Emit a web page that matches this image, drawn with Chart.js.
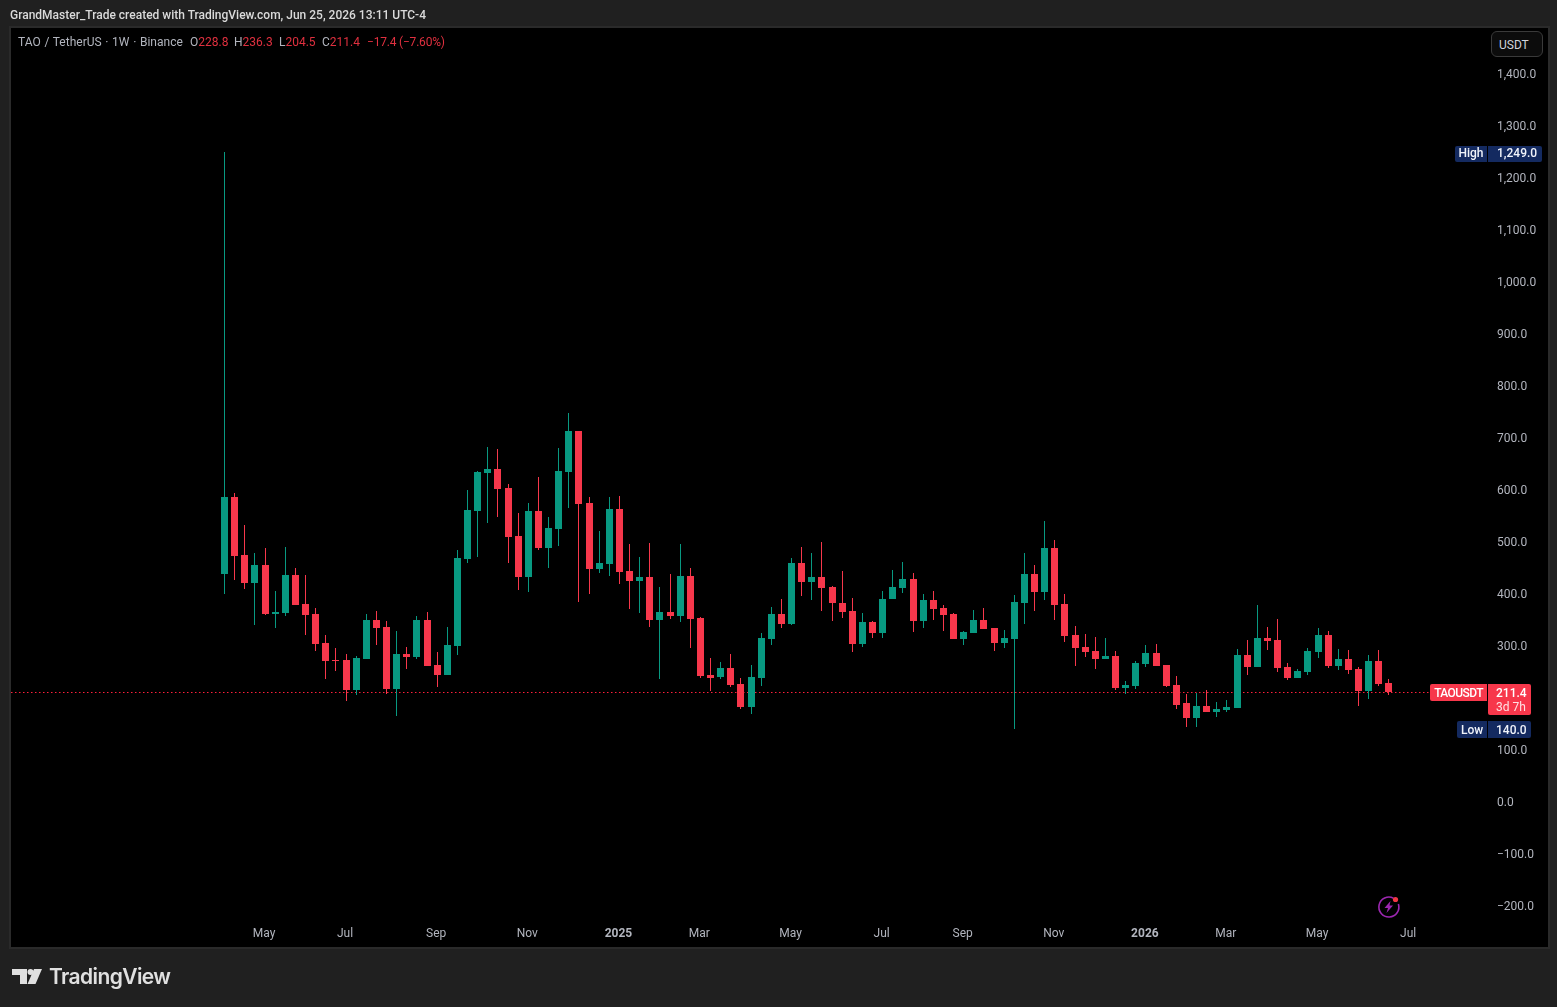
<!DOCTYPE html>
<html>
<head>
<meta charset="utf-8">
<style>
  html, body { margin: 0; padding: 0; width: 1557px; height: 1007px; overflow: hidden; background: #202020; }
  body { font-family: Roboto, sans-serif; position: relative; }
  #pane { position: absolute; left: 9px; top: 26px; width: 1537px; height: 919px; background: #000; border: 2px solid #2a2a2a; }
  canvas { position: absolute; left: 0; top: 0; }
  .txt { position: absolute; white-space: nowrap; }
  #title { left: 10px; top: 8px; font-size: 12px; font-weight: 500; color: #dadada; line-height: 14px; }
  .leg { top: 35px; font-size: 12px; line-height: 14px; color: #b2b5be; }
  .leg b { font-weight: 400; color: #e0303f; }
  #unit { left: 1491px; top: 31px; width: 43px; height: 24px; line-height: 26px; padding-left: 7px; font-size: 12px; color: #d1d4dc; background: #0c0c0c; border: 1px solid #3a3a3a; border-radius: 6px; }
  #brand { left: 49px; top: 963px; font-family: Inter, sans-serif; font-size: 21px; font-weight: 600; letter-spacing: -0.6px; line-height: 28px; color: #e0e0e0; }
  svg { position: absolute; }
</style>
</head>
<body>
<div id="pane"></div>
<canvas id="chart" width="1557" height="1007"></canvas>
<div class="txt" id="title">GrandMaster_Trade created with TradingView.com, Jun 25, 2026 13:11 UTC-4</div>
<div class="txt leg" style="left:18px;word-spacing:0.7px">TAO / TetherUS · 1W · Binance</div>
<div class="txt leg" style="left:190px">O<b>228.8</b></div>
<div class="txt leg" style="left:234px">H<b>236.3</b></div>
<div class="txt leg" style="left:279px">L<b>204.5</b></div>
<div class="txt leg" style="left:322px">C<b>211.4</b></div>
<div class="txt leg" style="left:367px;letter-spacing:-0.2px"><b>−17.4 (−7.60%)</b></div>
<div class="txt" id="unit">USDT</div>
<svg style="left:12px;top:969px" width="30" height="16" viewBox="0 0 30 16">
  <path d="M0 0H15V15H8V6H0Z" fill="#e0e0e0"/>
  <circle cx="18.5" cy="3" r="3" fill="#e0e0e0"/>
  <path d="M22 0H30L23.5 15H15.5Z" fill="#e0e0e0"/>
</svg>
<div class="txt" id="brand">TradingView</div>
<svg style="left:1376px;top:894px" width="26" height="26" viewBox="0 0 26 26">
  <path d="M17.5 4.2A10 10 0 1 0 22.4 10" fill="none" stroke="#9c27b0" stroke-width="1.6"/>
  <path d="M14.5 7L8.5 14H12L10.5 19L17 11.5H13.5Z" fill="#9c27b0"/>
  <circle cx="19.5" cy="5.5" r="2.6" fill="#f23645"/>
</svg>

<script src="https://cdn.jsdelivr.net/npm/chart.js@4"></script>
<script>
const opens = [
  437.5, 585.6, 474, 420.2, 454.8, 360.6, 362.5, 435.6, 379.8, 360.6,
  304.8, 272.1, 272.1, 214.4, 274, 349, 335.6, 216.3, 283.7, 277.9,
  349, 262.5, 243.3, 299, 466.3, 558.6, 631.7, 639.4, 602.9, 510.6,
  431.7, 558.6, 487.5, 524, 633.6, 712.5, 574, 447.1, 456.7, 562.5,
  443.3, 424, 431.7, 349, 364.4, 356.7, 433.6, 352.9, 243.3, 239.4,
  256.7, 226, 181.7, 237.5, 312.5, 360.6, 341.3, 458.6, 422.1, 431.7,
  412.5, 381.7, 366.3, 302.9, 345.2, 324, 389.4, 410.6, 427.9, 347,
  387.5, 372, 360.6, 312.5, 324, 349, 333.7, 304.8, 312.5, 381.7,
  437.5, 402.9, 487.5, 379.8, 320.2, 297.1, 289.4, 274, 279.8, 218.3,
  222.1, 264.4, 285.6, 262.5, 224, 189.4, 160.6, 183.6, 172, 175.9,
  179.8, 281.7, 258.6, 314.4, 310.5, 258.6, 237.5, 249, 287.5, 320.2,
  260.5, 274, 254.8, 212.5, 270.2, 228.8
];
const highs = [
  1249, 593.3, 531.7, 477.9, 487.5, 404.8, 489.4, 449, 435.6, 372,
  320.2, 295.2, 283.7, 279.8, 360.6, 366.3, 347, 327.9, 297.1, 356.7,
  364.4, 287.5, 335.6, 483.6, 599, 635.6, 681.7, 677.9, 610.6, 554.8,
  574, 624, 547.1, 679.8, 747.1, 712.5, 585.6, 520.2, 585.6, 587.5,
  495.2, 470.2, 497.1, 412.5, 437.5, 495.2, 449, 354.8, 275.9, 268.3,
  283.7, 237.5, 262.5, 324, 374, 389.4, 468.3, 489.4, 477.9, 499,
  414.4, 443.3, 391.3, 362.5, 347, 404.8, 445.2, 460.6, 439.4, 399,
  404.8, 377.9, 362.5, 327.9, 368.3, 372, 333.7, 329.8, 397.1, 477.9,
  454.8, 539.4, 502.9, 399, 337.5, 322.1, 316.3, 314.4, 289.4, 231.7,
  270.2, 301, 302.9, 262.5, 241.3, 206.7, 208.6, 214.4, 191.3, 195.2,
  293.2, 310.5, 377.9, 335.5, 350.9, 266.3, 254.8, 295.2, 333.6, 327.9,
  293.2, 291.3, 258.6, 281.7, 291.3, 236.3
];
const lows = [
  399, 426, 408.6, 339.4, 358.6, 333.7, 356.7, 377.9, 320.2, 289.4,
  235.6, 250.9, 193.3, 204.8, 274, 300.9, 206.7, 164.4, 254.8, 274,
  260.6, 220.2, 243.3, 281.7, 458.6, 470.2, 535.6, 547.1, 458.6, 406.7,
  402.9, 483.6, 449, 491.3, 564.4, 383.7, 399, 439.4, 433.6, 418.3,
  370.2, 362.5, 335.6, 235.6, 350.9, 345.2, 295.2, 237.5, 212.5, 235.6,
  220.2, 177.9, 168.3, 222.1, 301, 333.7, 339.4, 395.2, 387.5, 366.3,
  347, 352.9, 287.5, 297.1, 314.4, 314.4, 389.4, 401, 326, 333.7,
  349, 327.9, 312.5, 301, 324, 331.7, 289.4, 295.2, 140, 341.3,
  366.3, 387.5, 349, 306.7, 260.6, 277.9, 254.8, 274, 214.4, 206.7,
  216.3, 258.6, 260.6, 220.2, 177.9, 143.2, 143.2, 172, 162.4, 172,
  179.8, 243.2, 258.6, 291.3, 249, 233.6, 237.5, 243.2, 275.9, 256.7,
  252.9, 245.2, 183.6, 197.1, 222.1, 204.5
];
const closes = [
  585.6, 472.1, 420.2, 454.8, 360.6, 364.4, 435.6, 377.9, 358.6, 302.9,
  270.2, 270.2, 214.4, 276, 349, 333.7, 216.3, 283.7, 277.9, 349,
  260.6, 243.3, 301, 468.3, 560.6, 633.6, 639.4, 600.9, 508.6, 431.7,
  558.6, 487.5, 525.9, 635.6, 712.5, 572.1, 447.1, 458.6, 562.5, 441.3,
  424, 431.7, 349, 364.4, 356.7, 433.6, 350.9, 241.4, 237.5, 256.7,
  224, 181.7, 239.4, 314.4, 360.6, 341.3, 458.6, 422.1, 431.7, 410.6,
  381.7, 364.4, 302.9, 345.2, 324, 389.4, 412.5, 427.9, 347, 387.5,
  370.2, 358.6, 312.5, 326, 349, 331.7, 304.8, 314.4, 383.7, 437.5,
  402.9, 487.5, 377.9, 318.3, 295.2, 287.5, 274, 279.8, 218.3, 224,
  266.3, 285.6, 260.6, 222.1, 185.6, 160.6, 183.6, 172, 177.9, 181.7,
  281.7, 258.6, 314.4, 308.6, 256.7, 237.5, 250.9, 289.4, 320.2, 260.5,
  274, 252.9, 212.5, 270.2, 225.9, 211.4
];

// week numbers counted from the first candle
const xTickWeeks = [4, 12, 21, 30, 39, 47, 56, 65, 73, 82, 91, 99, 108, 117];
const xTickLabels = ['May', 'Jul', 'Sep', 'Nov', '2025', 'Mar', 'May', 'Jul', 'Sep', 'Nov', '2026', 'Mar', 'May', 'Jul'];
const yTicks = [1400, 1300, 1200, 1100, 1000, 900, 800, 700, 600, 500, 400, 300, 100, 0, -100, -200];

const lastClose = 211.4;
const allTimeHigh = 1249;
const allTimeLow = 140;

const UP = '#089981';
const DOWN = '#f7374b';
const NAVY = '#142a60';

const weeks = opens.map((_, i) => i);
const candleColors = weeks.map(i => closes[i] >= opens[i] ? UP : DOWN);
const wickData = weeks.map(i => ({ x: i, y: [lows[i], highs[i]] }));
const bodyData = weeks.map(i => ({ x: i, y: [Math.min(opens[i], closes[i]), Math.max(opens[i], closes[i])] }));

const X_MIN = -21.09, X_MAX = 124.69;
const Y_MIN = -224, Y_MAX = 1487.5;

// keep candles on whole pixels so wicks stay sharp like the original
const snapPlugin = {
  id: 'snap',
  afterDatasetsUpdate(chart) {
    chart.getSortedVisibleDatasetMetas().forEach(meta => {
      meta.data.forEach(el => {
        if (meta.type === 'bar') {
          el.x = Math.floor(el.x) + 0.5;
          el.y = Math.round(el.y);
          el.base = Math.round(el.base);
        } else {
          el.x = Math.round(el.x);
          el.y = Math.round(el.y) + 0.5;
        }
      });
    });
  }
};

function tag(ctx, x, y, w, h, fill, corners) {
  ctx.fillStyle = fill;
  ctx.beginPath();
  ctx.roundRect(x, y, w, h, corners);
  ctx.fill();
}

function tagText(ctx, s, x, y, color, align) {
  ctx.fillStyle = color;
  ctx.textAlign = align;
  ctx.textBaseline = 'middle';
  ctx.fillText(s, x, y);
}

const priceTagsPlugin = {
  id: 'priceTags',
  afterDraw(chart) {
    const ctx = chart.ctx;
    const sy = chart.scales.y;
    ctx.save();
    ctx.font = '500 12px Roboto, sans-serif';

    let c = Math.round(sy.getPixelForValue(allTimeHigh));
    tag(ctx, 1455, c - 6, 32, 16, NAVY, [2, 0, 0, 2]);
    tag(ctx, 1488, c - 6, 54, 16, NAVY, [0, 2, 2, 0]);
    tagText(ctx, 'High', 1471, c + 2, '#f0f3fa', 'center');
    tagText(ctx, '1,249.0', 1497, c + 2, '#f0f3fa', 'left');

    c = Math.round(sy.getPixelForValue(lastClose));
    tag(ctx, 1430, c - 8, 57, 17, DOWN, [2, 0, 0, 2]);
    tag(ctx, 1488, c - 8, 43, 31, DOWN, [0, 2, 2, 2]);
    ctx.letterSpacing = '-0.6px';
    tagText(ctx, 'TAOUSDT', 1458.5, c + 2, '#ffffff', 'center');
    ctx.letterSpacing = '0px';
    tagText(ctx, '211.4', 1496, c + 2, '#ffffff', 'left');
    ctx.font = '400 12px Roboto, sans-serif';
    tagText(ctx, '3d 7h', 1496, c + 16, '#ffe0e3', 'left');

    ctx.font = '500 12px Roboto, sans-serif';
    c = Math.round(sy.getPixelForValue(allTimeLow));
    tag(ctx, 1457, c - 8, 30, 17, NAVY, [2, 0, 0, 2]);
    tag(ctx, 1488, c - 8, 43, 17, NAVY, [0, 2, 2, 0]);
    tagText(ctx, 'Low', 1472, c + 2, '#f0f3fa', 'center');
    tagText(ctx, '140.0', 1496, c + 2, '#f0f3fa', 'left');
    ctx.restore();
  }
};

new Chart(document.getElementById('chart').getContext('2d'), {
  type: 'bar',
  plugins: [snapPlugin, priceTagsPlugin],
  data: {
    datasets: [
      {
        data: bodyData,
        backgroundColor: candleColors,
        barThickness: 7,
        grouped: false,
        inflateAmount: 0,
        order: 1
      },
      {
        data: wickData,
        backgroundColor: candleColors,
        barThickness: 1,
        grouped: false,
        inflateAmount: 0,
        order: 2
      },
      {
        type: 'line',
        data: [{ x: X_MIN, y: lastClose }, { x: X_MAX, y: lastClose }],
        borderColor: '#ff1f3a',
        borderWidth: 1,
        borderDash: [1.5, 2.5],
        pointRadius: 0,
        order: 3
      }
    ]
  },
  options: {
    responsive: false,
    animation: false,
    events: [],
    layout: { padding: { left: 11, top: 28, right: 10, bottom: 61 } },
    plugins: { legend: { display: false }, tooltip: { enabled: false } },
    scales: {
      x: {
        type: 'linear',
        offset: false,
        min: X_MIN,
        max: X_MAX,
        grid: { display: false, drawTicks: false },
        border: { display: false },
        afterFit(scale) { scale.height = 28; },
        afterBuildTicks(scale) { scale.ticks = xTickWeeks.map(v => ({ value: v })); },
        ticks: {
          autoSkip: false,
          maxRotation: 0,
          padding: 9,
          labelOffset: -1,
          color: '#b2b5be',
          font: ctx => {
            const s = xTickLabels[ctx.index];
            return { family: 'Roboto, sans-serif', size: 12, weight: s && s.length === 4 ? '700' : '400' };
          },
          callback: (v, i) => xTickLabels[i]
        }
      },
      y: {
        position: 'right',
        min: Y_MIN,
        max: Y_MAX,
        grid: { display: false, drawTicks: false },
        border: { display: false },
        afterFit(scale) { scale.width = 60; },
        afterBuildTicks(scale) { scale.ticks = yTicks.map(v => ({ value: v })); },
        ticks: {
          autoSkip: false,
          padding: 10,
          labelOffset: 1,
          align: 'center',
          crossAlign: 'near',
          color: '#b2b5be',
          font: { family: 'Roboto, sans-serif', size: 12 },
          callback: v => v.toLocaleString('en-US', { minimumFractionDigits: 1, maximumFractionDigits: 1 }).replace('-', '−')
        }
      }
    }
  }
});
</script>
</body>
</html>
